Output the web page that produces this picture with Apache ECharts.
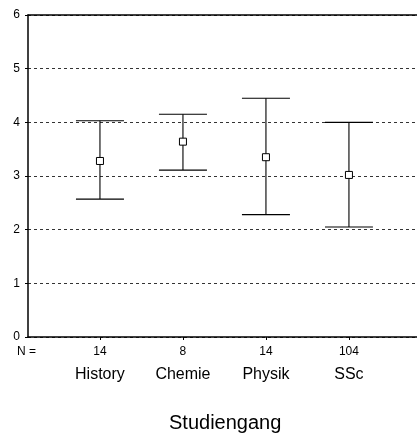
<!DOCTYPE html>
<html>
<head>
<meta charset="utf-8">
<script src="https://cdn.jsdelivr.net/npm/echarts@6/dist/echarts.min.js"></script>
<style>
  html, body { margin: 0; padding: 0; background: #fff; }
  #main { width: 417px; height: 435px; }
</style>
</head>
<body>
<div id="main"></div>
<script>
// Studiengaenge und Fallzahlen
var categories = ['History', 'Chemie', 'Physik', 'SSc'];
var nValues = [14, 8, 14, 104];
// Fehlerbalken: untere Grenze, Mittelwert, obere Grenze
var lowValues = [2.57, 3.11, 2.28, 2.05];
var meanValues = [3.28, 3.64, 3.35, 3.02];
var highValues = [4.03, 4.15, 4.45, 4.00];

var chart = echarts.init(document.getElementById('main'));
var font = 'Liberation Sans, Arial, sans-serif';

var barData = categories.map(function (c, i) {
  return [i + 1, lowValues[i], meanValues[i], highValues[i]];
});

var option = {
  animation: false,
  grid: { left: 28, right: 0, top: 15, bottom: 98, containLabel: false },
  xAxis: [
    {
      type: 'value',
      min: 0.133,
      max: 4.82,
      splitLine: { show: false },
      axisLine: { lineStyle: { color: '#000', width: 1.5 } },
      axisTick: { customValues: [1, 2, 3, 4], length: 3, lineStyle: { color: '#000' } },
      axisLabel: {
        customValues: [1, 2, 3, 4],
        margin: 7,
        formatter: function (v) {
          var i = Math.round(v) - 1;
          return '{n|' + nValues[i] + '}\n{c|' + categories[i] + '}';
        },
        rich: {
          n: { fontFamily: font, fontSize: 12, color: '#000', lineHeight: 16 },
          c: { fontFamily: font, fontSize: 16, color: '#000', lineHeight: 30 }
        }
      }
    },
    {
      type: 'value',
      position: 'top',
      min: 0.133,
      max: 4.82,
      splitLine: { show: false },
      axisLine: { show: true, onZero: false, lineStyle: { color: '#000', width: 1.5 } },
      axisTick: { show: false },
      axisLabel: { show: false }
    }
  ],
  yAxis: {
    type: 'value',
    min: 0,
    max: 6,
    interval: 1,
    axisLine: { show: true, lineStyle: { color: '#000', width: 1.5 } },
    axisTick: { show: true, length: 3, lineStyle: { color: '#000' } },
    axisLabel: { fontFamily: font, fontSize: 12, color: '#000', margin: 8 },
    splitLine: { lineStyle: { color: '#333', type: [3, 3], width: 1 } }
  },
  graphic: [
    {
      type: 'text',
      left: 17,
      top: 346,
      style: { text: 'N =', font: '12px ' + font, fill: '#000' }
    },
    {
      type: 'text',
      left: 169,
      top: 413,
      style: { text: 'Studiengang', font: '20px ' + font, fill: '#000' }
    }
  ],
  series: [
    {
      type: 'custom',
      xAxisIndex: 0,
      data: barData,
      renderItem: function (params, api) {
        var x = api.value(0);
        var lo = api.coord([x, api.value(1)]);
        var mid = api.coord([x, api.value(2)]);
        var hi = api.coord([x, api.value(3)]);
        var hw = 24;
        var s = 3.5;
        var stroke = { stroke: '#000', lineWidth: 1.1, fill: null };
        return {
          type: 'group',
          children: [
            { type: 'line', shape: { x1: lo[0], y1: lo[1], x2: hi[0], y2: hi[1] }, style: stroke },
            { type: 'line', shape: { x1: hi[0] - hw, y1: hi[1], x2: hi[0] + hw, y2: hi[1] }, style: stroke },
            { type: 'line', shape: { x1: lo[0] - hw, y1: lo[1], x2: lo[0] + hw, y2: lo[1] }, style: stroke },
            {
              type: 'rect',
              shape: { x: mid[0] - s, y: mid[1] - s, width: 2 * s, height: 2 * s },
              style: { stroke: '#000', lineWidth: 1, fill: '#fff' }
            }
          ]
        };
      }
    }
  ]
};
chart.setOption(option);
</script>
</body>
</html>
